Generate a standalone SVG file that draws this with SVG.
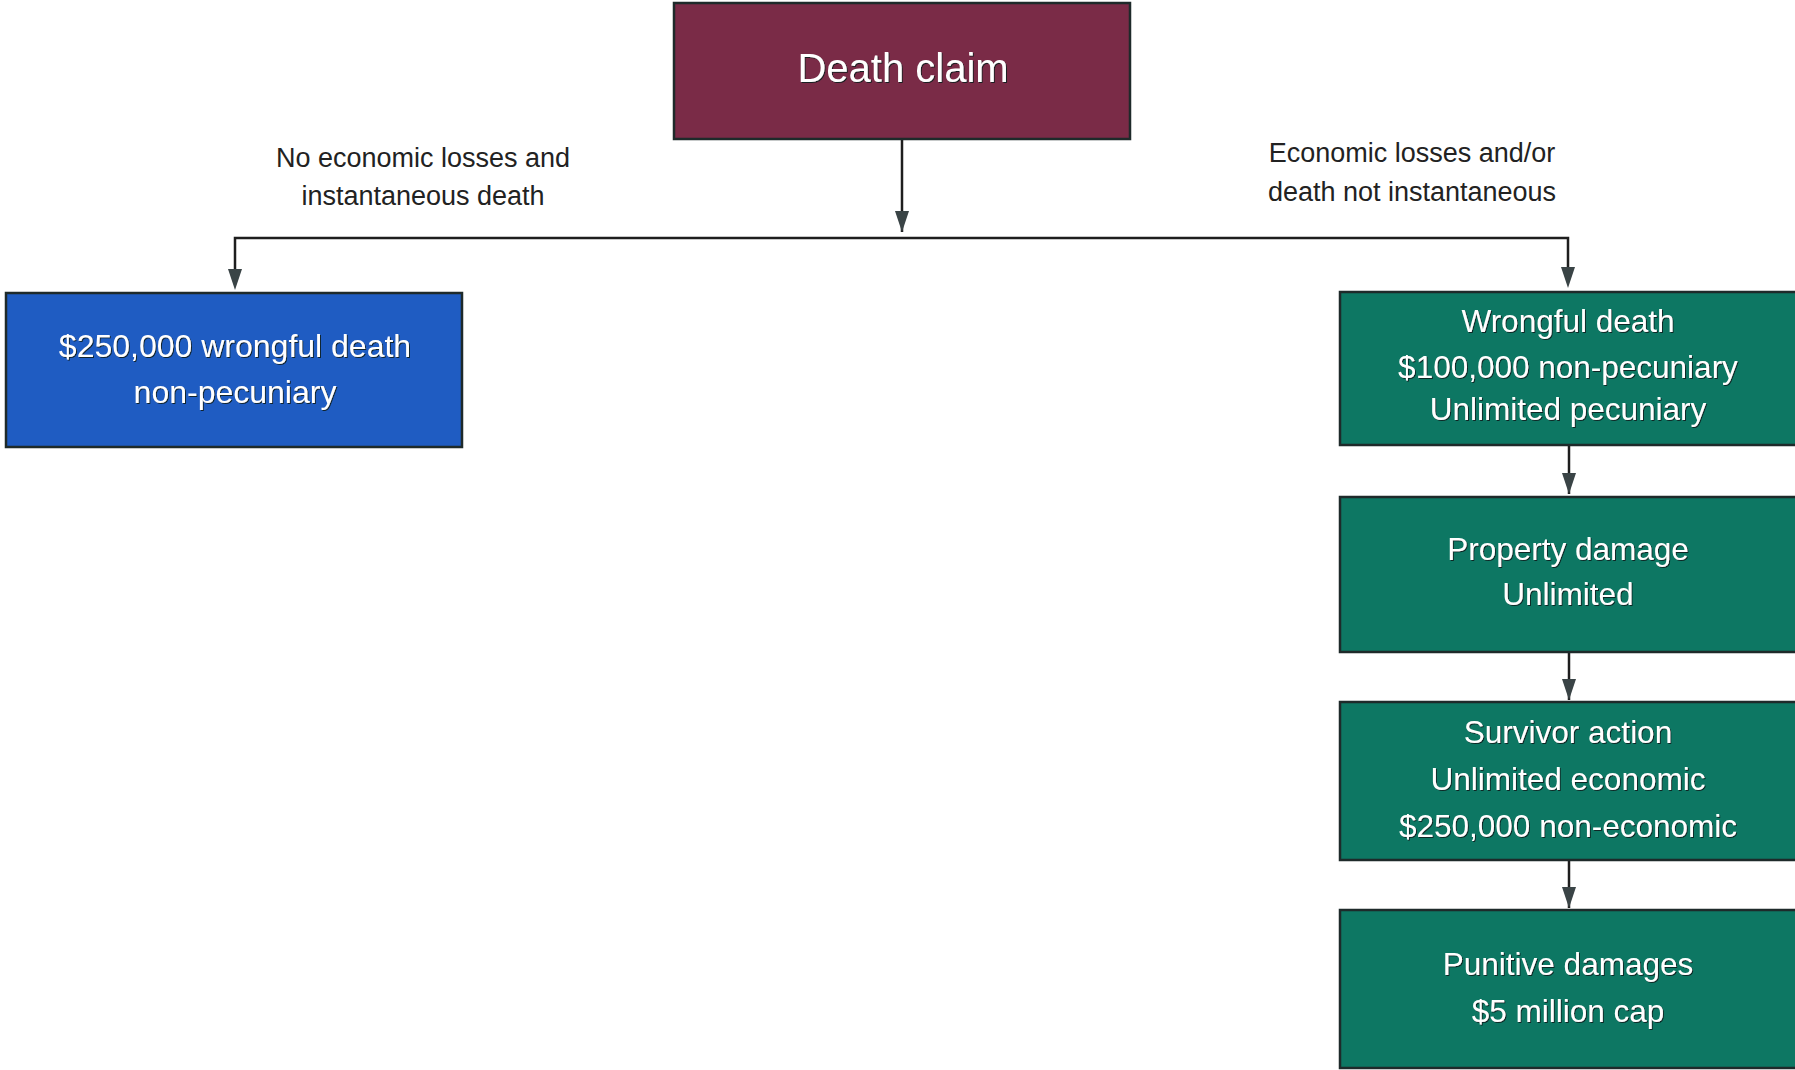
<svg xmlns="http://www.w3.org/2000/svg" width="1795" height="1070" viewBox="0 0 1795 1070">
<style>
.box{stroke:#1e2a2a;stroke-width:2.5}
.maroon{fill:#7a2b47}
.blue{fill:#1f5cc2}
.green{fill:#0d7763}
.t{font-family:"Liberation Sans",Arial,sans-serif;fill:#ffffff;text-anchor:middle;filter:url(#sh)}
.g{font-size:31.5px}
.lbl{font-family:"Liberation Sans",Arial,sans-serif;fill:#222;text-anchor:middle;font-size:27px}
.ln{stroke:#1e1e1e;stroke-width:2.5;fill:none}
</style>
<defs>
<filter id="sh" x="-10%" y="-20%" width="120%" height="140%">
<feDropShadow dx="1" dy="1" stdDeviation="0.6" flood-color="#0a1a1a" flood-opacity="0.9"/>
</filter>
<marker id="ah" markerWidth="21" markerHeight="14" refX="21" refY="7" orient="auto" markerUnits="userSpaceOnUse" viewBox="0 0 21 14">
<path d="M0,0 L21,7 L0,14 Z" fill="#3a4446"/>
</marker>
</defs>
<g id="connectors">
<line class="ln" x1="902" y1="140" x2="902" y2="232" marker-end="url(#ah)"/>
<polyline class="ln" points="235,274 235,238 1568,238 1568,272"/>
<path d="M228,269 L242,269 L235,290 Z" fill="#3a4446"/>
<path d="M1561,267 L1575,267 L1568,288 Z" fill="#3a4446"/>
<line class="ln" x1="1569" y1="446" x2="1569" y2="494" marker-end="url(#ah)"/>
<line class="ln" x1="1569" y1="653" x2="1569" y2="700" marker-end="url(#ah)"/>
<line class="ln" x1="1569" y1="861" x2="1569" y2="908" marker-end="url(#ah)"/>
</g>
<g id="label-left">
<text class="lbl" x="423" y="167">No economic losses and</text>
<text class="lbl" x="423" y="205">instantaneous death</text>
</g>
<g id="label-right">
<text class="lbl" x="1412" y="162">Economic losses and/or</text>
<text class="lbl" x="1412" y="201">death not instantaneous</text>
</g>
<g id="death-claim">
<rect class="box maroon" x="674" y="3" width="456" height="136"/>
<text class="t" x="903" y="82" font-size="40">Death claim</text>
</g>
<g id="wrongful-250">
<rect class="box blue" x="6" y="293" width="456" height="154"/>
<text class="t" x="235" y="357" font-size="32">$250,000 wrongful death</text>
<text class="t" x="235" y="403" font-size="32">non-pecuniary</text>
</g>
<g id="wrongful-100">
<rect class="box green" x="1340" y="292" width="470" height="153"/>
<text class="t g" x="1568" y="332">Wrongful death</text>
<text class="t g" x="1568" y="378">$100,000 non-pecuniary</text>
<text class="t g" x="1568" y="420">Unlimited pecuniary</text>
</g>
<g id="property">
<rect class="box green" x="1340" y="497" width="470" height="155"/>
<text class="t g" x="1568" y="560">Property damage</text>
<text class="t g" x="1568" y="605">Unlimited</text>
</g>
<g id="survivor">
<rect class="box green" x="1340" y="702" width="470" height="158"/>
<text class="t g" x="1568" y="743">Survivor action</text>
<text class="t g" x="1568" y="790">Unlimited economic</text>
<text class="t g" x="1568" y="837">$250,000 non-economic</text>
</g>
<g id="punitive">
<rect class="box green" x="1340" y="910" width="470" height="158"/>
<text class="t g" x="1568" y="975">Punitive damages</text>
<text class="t g" x="1568" y="1022">$5 million cap</text>
</g>
</svg>
